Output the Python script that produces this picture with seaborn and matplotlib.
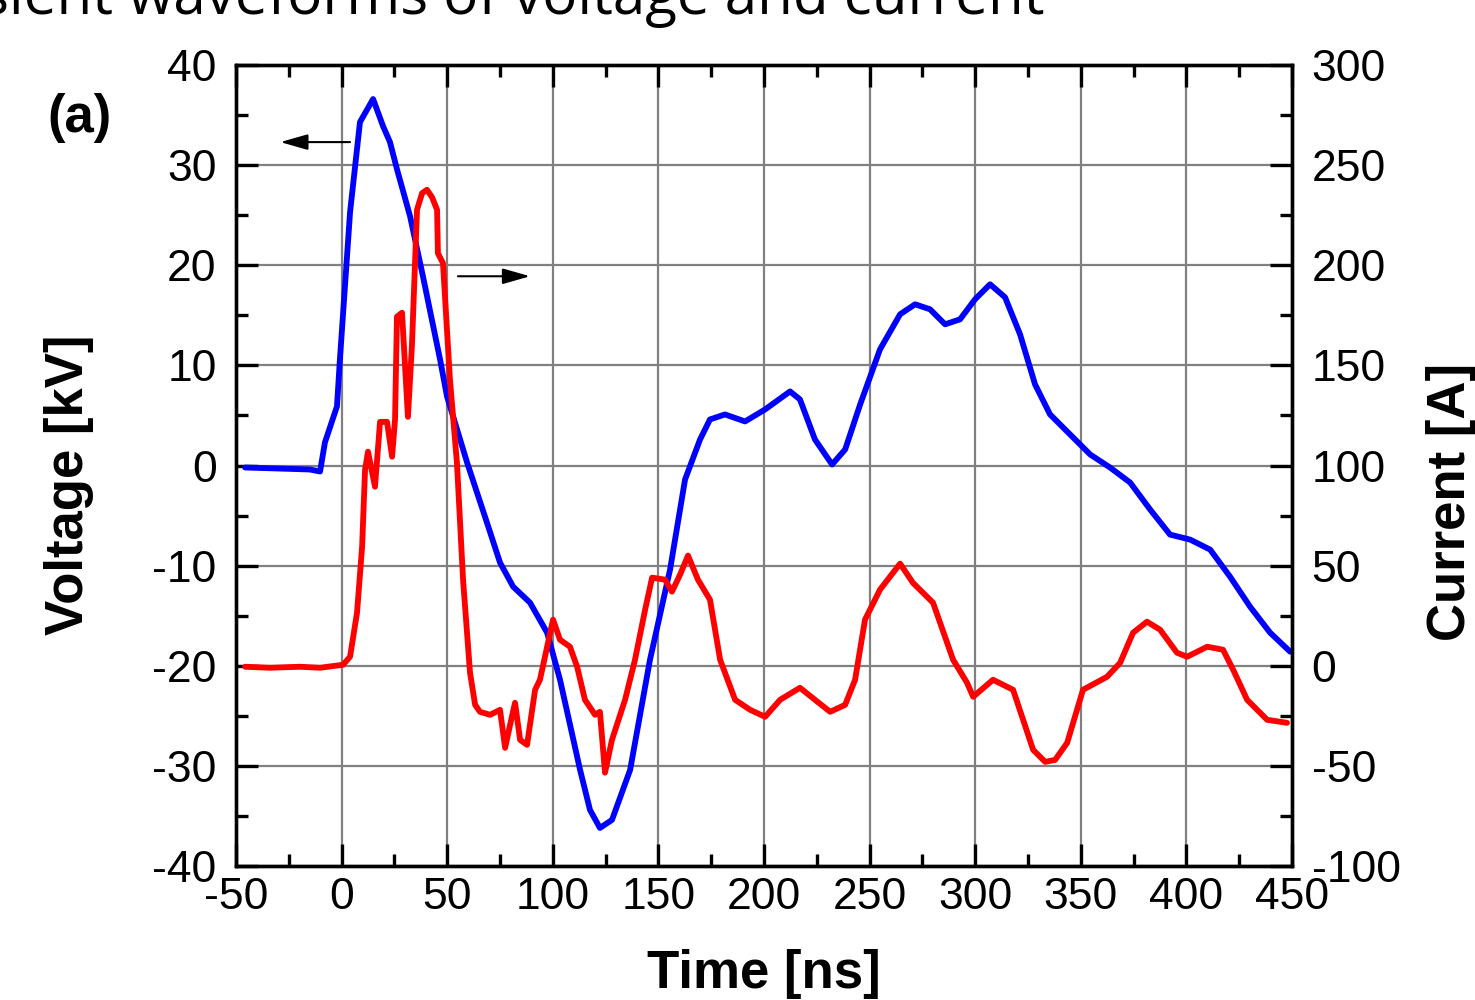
import pandas as pd
import matplotlib.pyplot as plt
import seaborn as sns
import numpy as np
from matplotlib.ticker import MultipleLocator

# voltage trace (blue)
v_time = [-45.7, -30.0, -15.0, -10.2, -7.9, -2.2, -0.8, 4.0, 8.7, 14.9, 19.6, 22.9, 26.2,
          32.4, 38.5, 46.6, 49.9, 59.4, 68.8, 75.0, 81.2, 89.2, 97.3, 103.4, 112.9, 117.6,
          122.3, 128.0, 136.6, 146.0, 155.5, 162.6, 169.7, 174.4, 181.5, 191.0, 200.5,
          212.3, 217.0, 224.1, 232.2, 238.4, 245.5, 254.9, 264.4, 271.5, 278.6, 285.7,
          292.8, 299.9, 307.0, 314.1, 321.2, 328.3, 335.4, 344.9, 354.4, 363.8, 373.3,
          382.8, 392.2, 401.7, 411.2, 420.6, 430.1, 439.6, 449.1]
voltage = [-0.2, -0.3, -0.4, -0.6, 2.3, 5.9, 10.6, 25.3, 34.3, 36.6, 33.9, 32.3, 29.6,
           24.9, 18.9, 10.6, 6.9, 0.3, -5.7, -9.7, -12.1, -13.7, -16.7, -21.4, -30.4, -34.4,
           -36.2, -35.4, -30.4, -19.4, -10.4, -1.4, 2.6, 4.6, 5.1, 4.4, 5.6,
           7.4, 6.6, 2.6, 0.1, 1.6, 6.1, 11.6, 15.1, 16.1, 15.6, 14.1,
           14.6, 16.6, 18.1, 16.8, 13.1, 8.1, 5.1, 3.1, 1.1, -0.2, -1.7,
           -4.4, -6.9, -7.4, -8.4, -11.1, -14.1, -16.7, -18.6]

# current trace (red)
i_time = [-45.7, -33.9, -19.7, -10.2, 0.7, 4.0, 7.3, 9.7, 11.1, 12.5, 15.8, 18.2, 21.5,
          23.9, 25.3, 26.2, 28.6, 31.4, 33.3, 35.7, 38.1, 40.4, 42.8, 45.2, 45.6, 48.0,
          51.3, 54.6, 57.5, 60.8, 63.2, 65.5, 70.3, 75.0, 77.4, 80.7, 82.1, 84.5, 87.8,
          91.6, 93.9, 100.1, 103.4, 108.1, 111.5, 115.2, 120.0, 122.3, 124.7, 128.0,
          134.2, 138.9, 143.7, 147.0, 153.1, 156.4, 160.2, 164.0, 168.7, 174.4, 179.2,
          186.3, 193.4, 200.5, 207.6, 217.0, 224.1, 231.3, 238.4, 243.1, 247.8, 254.9,
          264.4, 270.5, 280.0, 289.5, 296.1, 299.0, 308.4, 317.9, 327.4, 333.1, 337.8,
          343.5, 351.0, 362.4, 368.6, 374.7, 381.3, 387.5, 395.5, 400.3, 409.8, 417.3,
          422.1, 428.7, 438.2, 447.6]
current = [-0.5, -1.0, -0.5, -1.0, 0.5, 4.5, 26.5, 59.4, 97.9, 106.9, 89.4, 121.8, 121.8,
           104.4, 123.0, 174.3, 176.3, 124.3, 160.0, 227.7, 236.0, 237.7, 234.0, 227.7, 206.0, 201.0,
           142.8, 101.4, 42.9, -3.5, -19.5, -23.0, -24.5, -22.0, -41.0, -25.0, -18.5, -37.0, -39.5,
           -12.0, -7.0, 23.0, 13.0, 9.5, -0.5, -17.0, -24.5, -23.0, -53.4, -37.0,
           -17.0, 3.0, 28.0, 44.0, 43.0, 37.0, 45.4, 55.0, 43.0, 33.0, 3.0,
           -17.0, -22.0, -25.5, -17.0, -11.0, -17.0, -23.0, -19.5, -7.0, 23.0, 38.0,
           51.0, 41.4, 31.5, 3.0, -8.5, -15.5, -7.0, -12.0, -42.0, -48.0, -47.0,
           -38.5, -12.0, -5.5, 1.5, 16.5, 22.0, 18.0, 6.5, 4.5, 9.5, 8.0,
           -2.0, -17.0, -27.0, -28.5]

x_ticks = np.arange(-50, 451, 50)
v_ticks = np.arange(-40, 41, 10)
i_ticks = np.arange(-100, 301, 50)

sns.set_theme(style="white")
plt.rcParams['font.family'] = ['Liberation Sans', 'DejaVu Sans']
plt.rcParams['axes.unicode_minus'] = False
plt.rcParams['text.color'] = 'black'
plt.rcParams['axes.labelcolor'] = 'black'

fig = plt.figure(figsize=(14.75, 10), dpi=100)
ax = fig.add_axes([0.16, 0.134, 0.716, 0.801])
ax2 = ax.twinx()

sns.lineplot(x=v_time, y=voltage, ax=ax, color="#0000ff", lw=4.2, sort=False)
sns.lineplot(x=i_time, y=current, ax=ax2, color="#ff0000", lw=4.2, sort=False)

ax.set_xlim(-50, 450)
ax.set_ylim(-40, 40)
ax2.set_ylim(-100, 300)
ax.set_xticks(x_ticks)
ax.set_yticks(v_ticks)
ax2.set_yticks(i_ticks)
ax.xaxis.set_minor_locator(MultipleLocator(25))
ax.yaxis.set_minor_locator(MultipleLocator(5))
ax2.yaxis.set_minor_locator(MultipleLocator(25))

ax.grid(True, color="#808080", lw=1.6)
ax2.grid(False)
ax.set_axisbelow(True)

for a in (ax, ax2):
    for s in a.spines.values():
        s.set_color("black")
        s.set_linewidth(2.4)

ax.tick_params(axis="x", which="both", direction="in", top=True, bottom=True,
               labelsize=32, pad=8, colors="black")
ax.tick_params(axis="y", which="both", direction="in", left=True, right=False,
               labelsize=32, pad=14, colors="black")
ax2.tick_params(axis="y", which="both", direction="in", right=True, left=False,
                labelsize=32, pad=14, colors="black")
for a in (ax, ax2):
    a.tick_params(which="major", length=16, width=2.4)
    a.tick_params(which="minor", length=8.5, width=2.4)

ax.set_xlabel("Time [ns]", fontsize=38, fontweight="bold", color="black")
ax.set_ylabel("Voltage [kV]", fontsize=38, fontweight="bold", color="black")
ax2.set_ylabel("Current [A]", fontsize=38, fontweight="bold", color="black")
ax.xaxis.set_label_coords(0.5, -0.104)
ax.yaxis.set_label_coords(-0.134, 0.476)
ax2.yaxis.set_label_coords(1.127, 0.454)

# direction arrows
arrow = dict(arrowstyle="-|>,head_length=1.4,head_width=0.4", color="black", lw=1.5,
             shrinkA=0, shrinkB=0)
ax.annotate("", xy=(-29.0, 32.3), xytext=(4.0, 32.3), arrowprops=arrow)
ax.annotate("", xy=(89.2, 18.9), xytext=(55.1, 18.9), arrowprops=arrow)

fig.text(0.032, 0.882, "(a)", fontsize=38, fontweight="bold", ha="left", va="center",
         color="black")
fig.text(0.708, 0.986, "Transient waveforms of voltage and current", fontsize=42,
         ha="right", va="baseline", family=["Open Sans", "DejaVu Sans"], color="black")

fig.savefig("out.png", dpi=100)
